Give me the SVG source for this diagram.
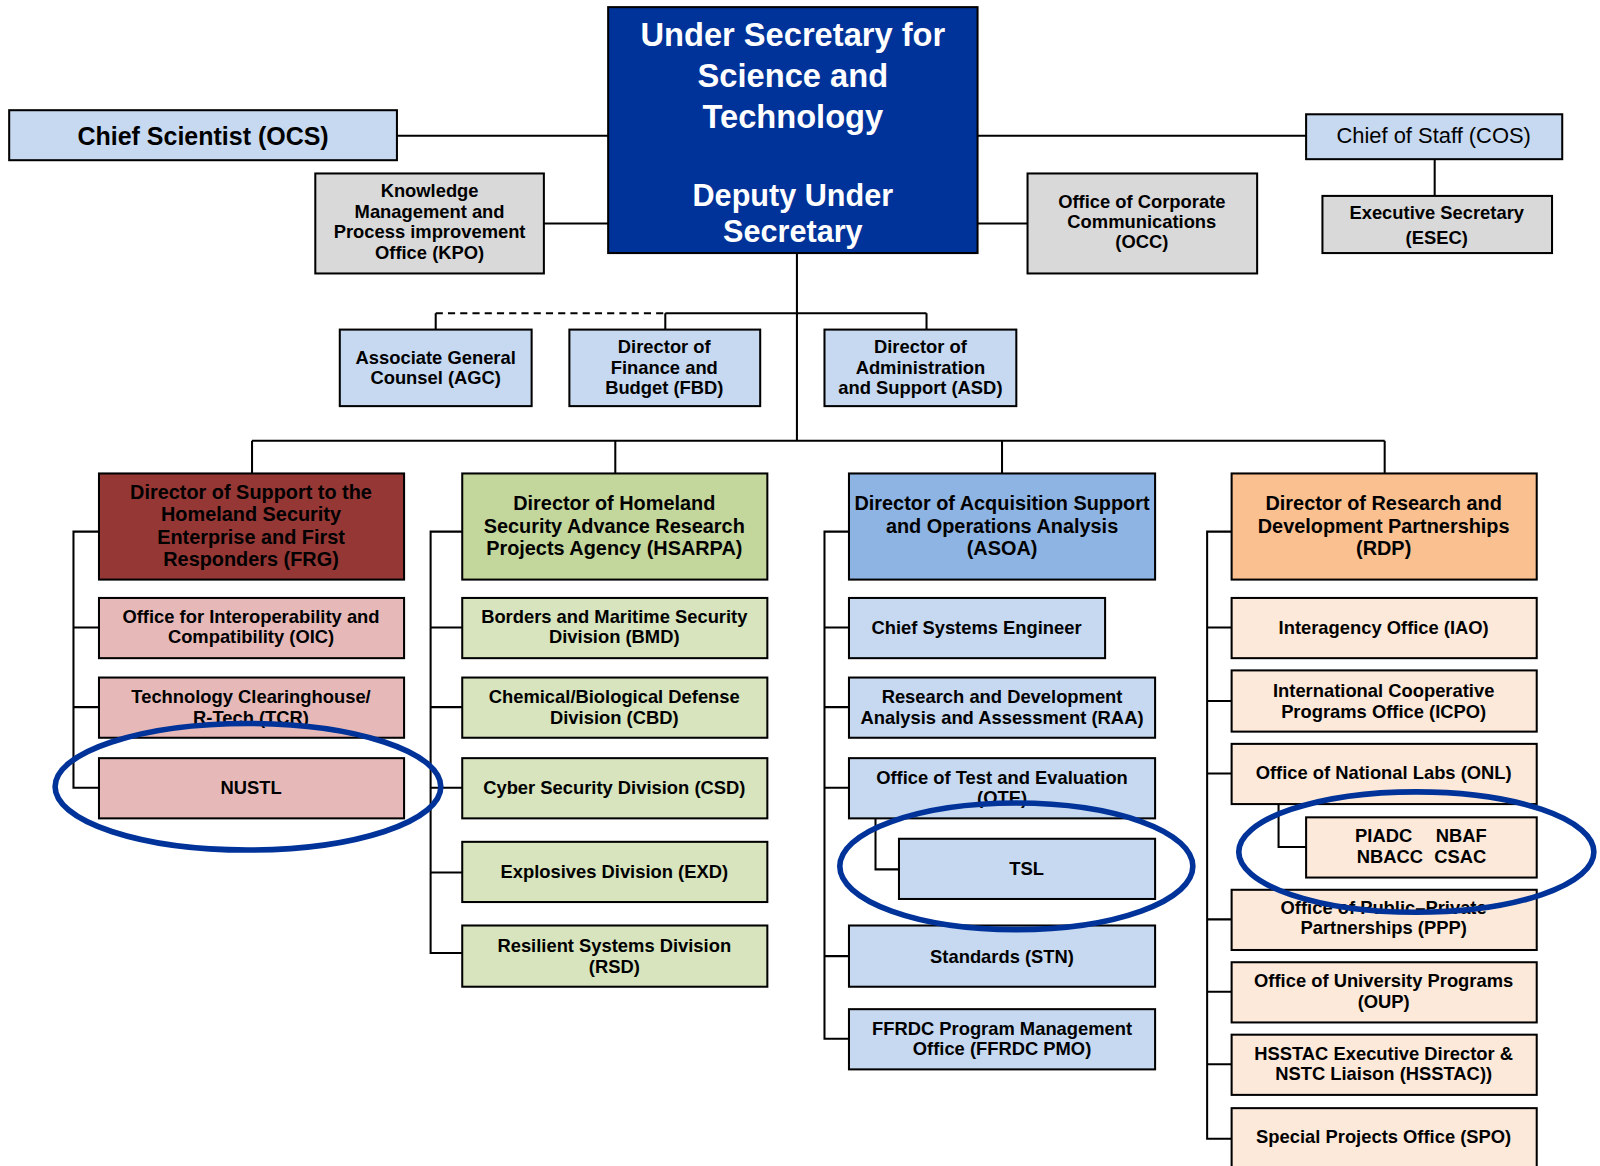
<svg xmlns="http://www.w3.org/2000/svg" width="1600" height="1166" viewBox="0 0 1600 1166">
<style>
.b{stroke:#000;stroke-width:2}
.t{font-family:"Liberation Sans",Arial,sans-serif;font-weight:bold;fill:#000;text-anchor:middle;dominant-baseline:central}
.s18{font-size:18px}
.s20{font-size:19.5px}
.ln{fill:none;stroke:#000;stroke-width:2}
.el{fill:none;stroke:#003399;stroke-width:5.5}
</style>
<rect width="1600" height="1166" fill="#fff"/>
<g transform="scale(1.0204)">
<g id="connectors">
<path class="ln" d="M389 133H596M958 133H1280M1406 156V192M533 219H596M958 219H1007"/>
<path class="ln" d="M781 248V432M652 307H908M427 307V323M652 307V323M908 307V323"/>
<path class="ln" d="M427 307H652" stroke-dasharray="7 5"/>
<path class="ln" d="M247 432H1357M247 432V464M603 432V464M982 432V464M1357 432V464"/>
<path class="ln" d="M97 521H72V772H97M72 615H97M72 693H97"/>
<path class="ln" d="M453 521H422V934H453M422 615H453M422 693H453M422 772H453M422 855H453"/>
<path class="ln" d="M832 521H808V1018H832M808 615H832M808 693H832M808 772H832M808 937H832M858 802V852H881"/>
<path class="ln" d="M1207 521H1183V1116H1207M1183 615H1207M1183 687H1207M1183 758H1207M1183 901H1207M1183 972H1207M1183 1043H1207M1253 788V830H1280"/>
</g>
<g id="us"><rect class="b" x="596" y="7" width="362" height="241" fill="#003399"/>
<text class="t" x="777" y="34" font-size="32" fill="#fff" style="fill:#fff">Under Secretary for</text>
<text class="t" x="777" y="74" font-size="32" style="fill:#fff">Science and</text>
<text class="t" x="777" y="114" font-size="32" style="fill:#fff">Technology</text>
<text class="t" x="777" y="191" font-size="30" style="fill:#fff">Deputy Under</text>
<text class="t" x="777" y="226" font-size="30" style="fill:#fff">Secretary</text></g>
<g id="ocs"><rect class="b" x="9" y="108" width="380" height="49" fill="#c6d9f1"/><text class="t" x="199" y="133" font-size="24.5">Chief Scientist (OCS)</text></g>
<g id="kpo"><rect class="b" x="309" y="170" width="224" height="98" fill="#d9d9d9"/><text class="t s18" x="421" y="187">Knowledge</text><text class="t s18" x="421" y="207">Management and</text><text class="t s18" x="421" y="227">Process improvement</text><text class="t s18" x="421" y="247">Office (KPO)</text></g>
<g id="cos"><rect class="b" x="1280" y="112" width="251" height="44" fill="#c6d9f1"/><text class="t" x="1405" y="133" font-size="21.5" font-weight="normal" style="font-weight:normal">Chief of Staff (COS)</text></g>
<g id="esec"><rect class="b" x="1296" y="192" width="225" height="56" fill="#d9d9d9"/><text class="t s18" x="1408" y="208">Executive Secretary</text><text class="t s18" x="1408" y="233">(ESEC)</text></g>
<g id="occ"><rect class="b" x="1007" y="170" width="225" height="98" fill="#d9d9d9"/><text class="t s18" x="1119" y="197">Office of Corporate</text><text class="t s18" x="1119" y="217">Communications</text><text class="t s18" x="1119" y="237">(OCC)</text></g>
<g id="agc"><rect class="b" x="333" y="323" width="188" height="75" fill="#c6d9f1"/><text class="t s18" x="427" y="350">Associate General</text><text class="t s18" x="427" y="370">Counsel (AGC)</text></g>
<g id="fbd"><rect class="b" x="558" y="323" width="187" height="75" fill="#c6d9f1"/><text class="t s18" x="651" y="340">Director of</text><text class="t s18" x="651" y="360">Finance and</text><text class="t s18" x="651" y="380">Budget (FBD)</text></g>
<g id="asd"><rect class="b" x="808" y="323" width="188" height="75" fill="#c6d9f1"/><text class="t s18" x="902" y="340">Director of</text><text class="t s18" x="902" y="360">Administration</text><text class="t s18" x="902" y="380">and Support (ASD)</text></g>

<g id="frg"><rect class="b" x="97" y="464" width="299" height="104" fill="#953735"/><text class="t s20" x="246" y="482">Director of Support to the</text><text class="t s20" x="246" y="504">Homeland Security</text><text class="t s20" x="246" y="526">Enterprise and First</text><text class="t s20" x="246" y="548">Responders (FRG)</text></g>
<g id="oic"><rect class="b" x="97" y="586" width="299" height="59" fill="#e6b9b8"/><text class="t s18" x="246" y="604">Office for Interoperability and</text><text class="t s18" x="246" y="624">Compatibility (OIC)</text></g>
<g id="tcr"><rect class="b" x="97" y="664" width="299" height="59" fill="#e6b9b8"/><text class="t s18" x="246" y="683">Technology Clearinghouse/</text><text class="t s18" x="246" y="703">R-Tech (TCR)</text></g>
<g id="nustl"><rect class="b" x="97" y="743" width="299" height="59" fill="#e6b9b8"/><text class="t s18" x="246" y="772">NUSTL</text></g>

<g id="hsarpa"><rect class="b" x="453" y="464" width="299" height="104" fill="#c3d69b"/><text class="t s20" x="602" y="493">Director of Homeland</text><text class="t s20" x="602" y="515">Security Advance Research</text><text class="t s20" x="602" y="537">Projects Agency (HSARPA)</text></g>
<g id="bmd"><rect class="b" x="453" y="586" width="299" height="59" fill="#d7e4bd"/><text class="t s18" x="602" y="604">Borders and Maritime Security</text><text class="t s18" x="602" y="624">Division (BMD)</text></g>
<g id="cbd"><rect class="b" x="453" y="664" width="299" height="59" fill="#d7e4bd"/><text class="t s18" x="602" y="683">Chemical/Biological Defense</text><text class="t s18" x="602" y="703">Division (CBD)</text></g>
<g id="csd"><rect class="b" x="453" y="743" width="299" height="59" fill="#d7e4bd"/><text class="t s18" x="602" y="772">Cyber Security Division (CSD)</text></g>
<g id="exd"><rect class="b" x="453" y="825" width="299" height="59" fill="#d7e4bd"/><text class="t s18" x="602" y="854">Explosives Division (EXD)</text></g>
<g id="rsd"><rect class="b" x="453" y="907" width="299" height="60" fill="#d7e4bd"/><text class="t s18" x="602" y="927">Resilient Systems Division</text><text class="t s18" x="602" y="947">(RSD)</text></g>

<g id="asoa"><rect class="b" x="832" y="464" width="300" height="104" fill="#8eb4e3"/><text class="t s20" x="982" y="493">Director of Acquisition Support</text><text class="t s20" x="982" y="515">and Operations Analysis</text><text class="t s20" x="982" y="537">(ASOA)</text></g>
<g id="cse"><rect class="b" x="832" y="586" width="251" height="59" fill="#c6d9f1"/><text class="t s18" x="957" y="615">Chief Systems Engineer</text></g>
<g id="raa"><rect class="b" x="832" y="664" width="300" height="59" fill="#c6d9f1"/><text class="t s18" x="982" y="683">Research and Development</text><text class="t s18" x="982" y="703">Analysis and Assessment (RAA)</text></g>
<g id="ote"><rect class="b" x="832" y="743" width="300" height="59" fill="#c6d9f1"/><text class="t s18" x="982" y="762">Office of Test and Evaluation</text><text class="t s18" x="982" y="782">(OTE)</text></g>
<g id="tsl"><rect class="b" x="881" y="822" width="251" height="59" fill="#c6d9f1"/><text class="t s18" x="1006" y="851">TSL</text></g>
<g id="stn"><rect class="b" x="832" y="907" width="300" height="60" fill="#c6d9f1"/><text class="t s18" x="982" y="937">Standards (STN)</text></g>
<g id="ffrdc"><rect class="b" x="832" y="989" width="300" height="59" fill="#c6d9f1"/><text class="t s18" x="982" y="1008">FFRDC Program Management</text><text class="t s18" x="982" y="1028">Office (FFRDC PMO)</text></g>

<g id="rdp"><rect class="b" x="1207" y="464" width="299" height="104" fill="#fac090"/><text class="t s20" x="1356" y="493">Director of Research and</text><text class="t s20" x="1356" y="515">Development Partnerships</text><text class="t s20" x="1356" y="537">(RDP)</text></g>
<g id="iao"><rect class="b" x="1207" y="586" width="299" height="59" fill="#fde9d9"/><text class="t s18" x="1356" y="615">Interagency Office (IAO)</text></g>
<g id="icpo"><rect class="b" x="1207" y="657" width="299" height="60" fill="#fde9d9"/><text class="t s18" x="1356" y="677">International Cooperative</text><text class="t s18" x="1356" y="697">Programs Office (ICPO)</text></g>
<g id="onl"><rect class="b" x="1207" y="729" width="299" height="59" fill="#fde9d9"/><text class="t s18" x="1356" y="757">Office of National Labs (ONL)</text></g>
<g id="labs"><rect class="b" x="1280" y="801" width="226" height="59" fill="#fde9d9"/><text class="t s18" x="1356" y="819">PIADC</text><text class="t s18" x="1432" y="819">NBAF</text><text class="t s18" x="1362" y="839">NBACC</text><text class="t s18" x="1431" y="839">CSAC</text></g>
<g id="ppp"><rect class="b" x="1207" y="872" width="299" height="59" fill="#fde9d9"/><text class="t s18" x="1356" y="889">Office of Public–Private</text><text class="t s18" x="1356" y="909">Partnerships (PPP)</text></g>
<g id="oup"><rect class="b" x="1207" y="943" width="299" height="59" fill="#fde9d9"/><text class="t s18" x="1356" y="961">Office of University Programs</text><text class="t s18" x="1356" y="981">(OUP)</text></g>
<g id="hsstac"><rect class="b" x="1207" y="1014" width="299" height="59" fill="#fde9d9"/><text class="t s18" x="1356" y="1032">HSSTAC Executive Director &amp;</text><text class="t s18" x="1356" y="1052">NSTC Liaison (HSSTAC))</text></g>
<g id="spo"><rect class="b" x="1207" y="1086" width="299" height="80" fill="#fde9d9"/><text class="t s18" x="1356" y="1114">Special Projects Office (SPO)</text></g>

<g id="highlights">
<ellipse class="el" cx="243" cy="771" rx="189" ry="62"/>
<ellipse class="el" cx="996" cy="849" rx="173" ry="62"/>
<ellipse class="el" cx="1388" cy="835" rx="174" ry="59"/>
</g>
</g>
</svg>
